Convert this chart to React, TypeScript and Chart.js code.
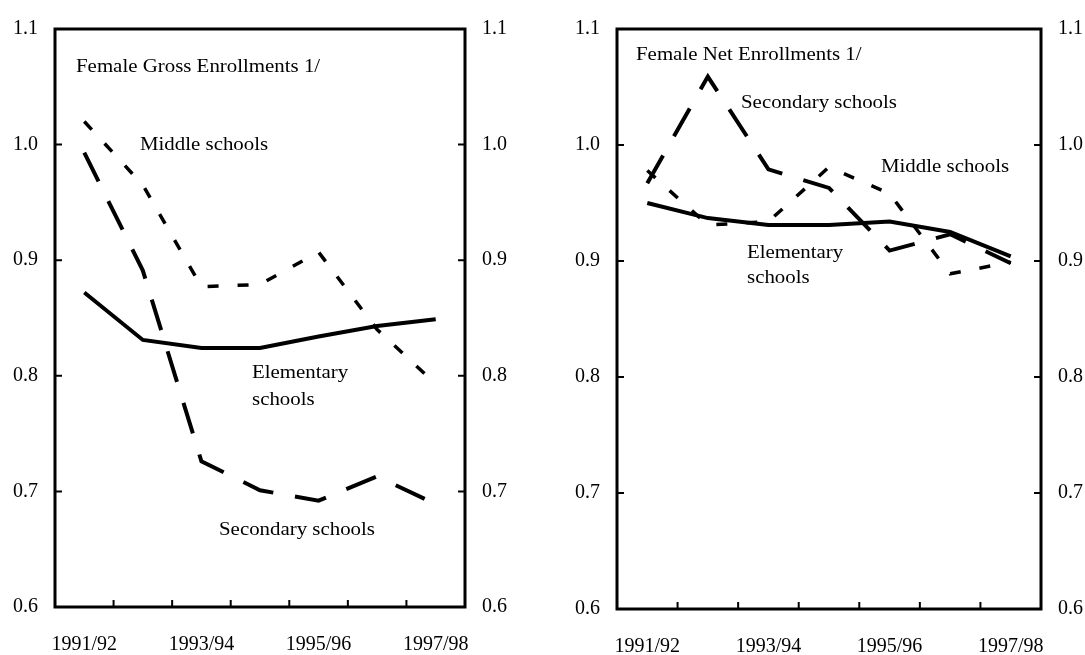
import React, { useEffect, useRef } from 'react';
import { Chart, registerables } from 'chart.js';

Chart.register(...registerables);

// ---------- data ----------
const years = ['1991/92', '1992/93', '1993/94', '1994/95', '1995/96', '1996/97', '1997/98'];
const shownYears = ['1991/92', '1993/94', '1995/96', '1997/98'];
const yTickValues = [0.6, 0.7, 0.8, 0.9, 1.0, 1.1];

const grossElementary = [0.872, 0.831, 0.824, 0.824, 0.834, 0.843, 0.849];
const grossMiddle = [1.02, 0.965, 0.877, 0.879, 0.907, 0.84, 0.793];
const grossSecondary = [0.993, 0.891, 0.726, 0.701, 0.692, 0.713, 0.689];

const netElementary = [0.95, 0.937, 0.931, 0.931, 0.934, 0.925, 0.904];
const netMiddle = [0.978, 0.931, 0.934, 0.981, 0.958, 0.889, 0.899];
const netSecondary = [0.967, 1.059, 0.979, 0.963, 0.909, 0.923, 0.898];

const FONT = '"Liberation Serif", "Times New Roman", serif';

type Note = { text: string; x: number; y: number };

const framePlugin = {
  id: 'frame',
  afterDraw(chart: any, _args: any, opts: any) {
    const { ctx, chartArea: a, scales } = chart;
    ctx.save();
    ctx.strokeStyle = '#000';
    ctx.lineWidth = 3;
    ctx.strokeRect(a.left, a.top, a.right - a.left, a.bottom - a.top);
    ctx.lineWidth = 2;
    ctx.beginPath();
    const ys = scales.y;
    yTickValues.slice(1, -1).forEach((t) => {
      const py = ys.getPixelForValue(t);
      ctx.moveTo(a.left, py);
      ctx.lineTo(a.left + 7, py);
      ctx.moveTo(a.right, py);
      ctx.lineTo(a.right - 7, py);
    });
    const xs = scales.x;
    for (let i = 1; i < years.length; i++) {
      const px = (xs.getPixelForValue(i - 1) + xs.getPixelForValue(i)) / 2;
      ctx.moveTo(px, a.bottom);
      ctx.lineTo(px, a.bottom - 7);
    }
    ctx.stroke();
    ctx.fillStyle = '#000';
    ctx.textBaseline = 'middle';
    ctx.textAlign = 'left';
    ctx.font = '18px ' + FONT;
    (opts.notes || []).forEach((n: Note) => {
      ctx.save();
      ctx.translate(n.x, n.y);
      ctx.scale(1.16, 1);
      ctx.fillText(n.text, 0, 0);
      ctx.restore();
    });
    ctx.restore();
  },
};

type PanelProps = {
  left: number;
  leftW: number;
  rightW: number;
  padTop: number;
  xH: number;
  elem: number[];
  mid: number[];
  sec: number[];
  notes: Note[];
};

function Panel(p: PanelProps) {
  const ref = useRef<HTMLCanvasElement | null>(null);
  useEffect(() => {
    if (!ref.current) return;
    const tickFont = { family: FONT, size: 20 };
    const yCommon = {
      min: 0.6,
      max: 1.1,
      grid: { display: false, drawTicks: false },
      border: { display: false },
      ticks: {
        stepSize: 0.1,
        color: '#000',
        font: tickFont,
        padding: 17,
        callback: (v: any) => Number(v).toFixed(1),
      },
    };
    const chart = new Chart(ref.current, {
      type: 'line',
      data: {
        labels: years,
        datasets: [
          {
            label: 'Elementary schools',
            data: p.elem,
            borderColor: '#000',
            borderWidth: 4,
            pointRadius: 0,
            tension: 0,
            fill: false,
          },
          {
            label: 'Middle schools',
            data: p.mid,
            borderColor: '#000',
            borderWidth: 3.5,
            borderDash: [11, 19],
            pointRadius: 0,
            tension: 0,
            fill: false,
          },
          {
            label: 'Secondary schools',
            data: p.sec,
            borderColor: '#000',
            borderWidth: 4,
            borderDash: [32, 22],
            pointRadius: 0,
            tension: 0,
            fill: false,
          },
        ],
      },
      options: {
        animation: false,
        responsive: false,
        devicePixelRatio: 1,
        layout: { padding: { top: p.padTop, left: 0, right: 0, bottom: 0 } },
        plugins: {
          legend: { display: false },
          tooltip: { enabled: false },
          frame: { notes: p.notes },
        } as any,
        scales: {
          x: {
            offset: true,
            grid: { display: false, drawTicks: false },
            border: { display: false },
            ticks: {
              autoSkip: false,
              maxRotation: 0,
              minRotation: 0,
              color: '#000',
              font: tickFont,
              padding: 26,
              callback: (_v: any, i: number) => (shownYears.includes(years[i]) ? years[i] : ''),
            },
            afterFit: (s: any) => {
              s.height = p.xH;
            },
          },
          y: {
            ...yCommon,
            position: 'left',
            afterFit: (s: any) => {
              s.width = p.leftW;
            },
          },
          y2: {
            ...yCommon,
            position: 'right',
            afterFit: (s: any) => {
              s.width = p.rightW;
            },
          },
        } as any,
      },
      plugins: [framePlugin],
    });
    return () => chart.destroy();
  }, []);
  return (
    <div style={{ position: 'absolute', left: p.left, top: 0, width: 540, height: 655 }}>
      <canvas ref={ref} width={540} height={655} style={{ display: 'block' }} />
    </div>
  );
}

export default function App() {
  return (
    <div
      style={{
        position: 'fixed',
        left: 0,
        top: 0,
        width: 1085,
        height: 655,
        background: '#fff',
        overflow: 'hidden',
      }}
    >
      <Panel
        left={0}
        leftW={55}
        rightW={75}
        padTop={22}
        xH={48}
        elem={grossElementary}
        mid={grossMiddle}
        sec={grossSecondary}
        notes={[
          { text: 'Female Gross Enrollments 1/', x: 76, y: 67 },
          { text: 'Middle schools', x: 140, y: 145 },
          { text: 'Elementary', x: 252, y: 373 },
          { text: 'schools', x: 252, y: 400 },
          { text: 'Secondary schools', x: 219, y: 530 },
        ]}
      />
      <Panel
        left={545}
        leftW={72}
        rightW={44}
        padTop={24}
        xH={46}
        elem={netElementary}
        mid={netMiddle}
        sec={netSecondary}
        notes={[
          { text: 'Female Net Enrollments 1/', x: 91, y: 55 },
          { text: 'Secondary schools', x: 196, y: 103 },
          { text: 'Middle schools', x: 336, y: 167 },
          { text: 'Elementary', x: 202, y: 253 },
          { text: 'schools', x: 202, y: 278 },
        ]}
      />
    </div>
  );
}
